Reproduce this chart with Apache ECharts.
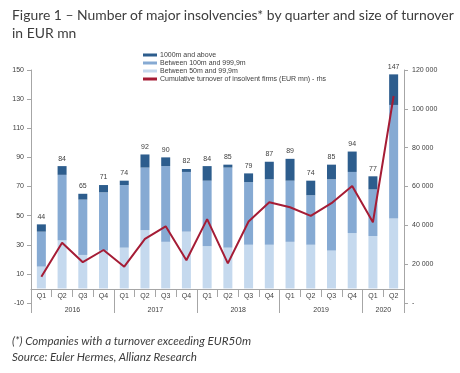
<!DOCTYPE html>
<html>
<head>
<meta charset="utf-8">
<script src="https://cdn.jsdelivr.net/npm/echarts@6/dist/echarts.min.js"></script>
<style>
html,body{margin:0;padding:0;background:#fff;}
#wrap{position:relative;width:460px;height:373px;overflow:hidden;}
#title{position:absolute;left:12px;top:6px;white-space:nowrap;font-family:Lato,"Noto Sans",sans-serif;font-size:13.9px;line-height:18px;color:#3d3d3d;}
#chart{position:absolute;left:0;top:0;width:460px;height:373px;}
#note{position:absolute;left:12px;top:333px;white-space:nowrap;font-family:Lato,"Noto Sans",sans-serif;font-style:italic;font-size:11.6px;line-height:16px;color:#3d3d3d;}
</style>
</head>
<body>
<div id="wrap">
<div id="chart"></div>
<div id="title">Figure 1 – Number of major insolvencies* by quarter and size of turnover<br>in EUR mn</div>
<div id="note">(*) Companies with a turnover exceeding EUR50m<br>Source: Euler Hermes, Allianz Research</div>
</div>
<script>
var quarters = ['Q1','Q2','Q3','Q4','Q1','Q2','Q3','Q4','Q1','Q2','Q3','Q4','Q1','Q2','Q3','Q4','Q1','Q2'];
var years = ['2016','2017','2018','2019','2020'];
var yearCenters = [2, 6, 10, 14, 17];
var yearBounds = [0, 4, 8, 12, 16, 18];
var between50and99 = [15,33,23,26,28,40,32,39,29,28,30,30,32,30,26,38,36,48];
var between100and999 = [24,45,38,40,43,43,52,41,45,55,43,45,42,34,49,42,32,78];
var above1000 = [5,6,4,5,3,9,6,2,10,2,6,12,15,10,10,14,9,21];
var totals = [44,84,65,71,74,92,90,82,84,85,79,87,89,74,85,94,77,147];
var cumulativeTurnover = [13500,31000,21000,27300,18700,33000,39500,22000,43200,20400,42000,51900,49300,44900,51400,60300,41600,106600];
var leftTicks = {min:-10, max:150, interval:20};
var rightTicks = {min:0, max:120000, interval:20000};

var axisColor = '#a6a6a6';
var labelFont = {fontFamily:'Liberation Sans, Arial, sans-serif', fontSize:7, color:'#404040'};
var chart = echarts.init(document.getElementById('chart'));
chart.setOption({
  animation:false,
  legend:{
    orient:'vertical', left:143, top:51, padding:0,
    itemWidth:14, itemHeight:3, itemGap:0,
    icon:'rect',
    textStyle:{fontFamily:'Liberation Sans, Arial, sans-serif', fontSize:7, lineHeight:8, color:'#404040', padding:[0,0,0,-2]},
    data:['1000m and above','Between 100m and 999,9m','Between 50m and 99,9m','Cumulative turnover of insolvent firms (EUR mn) - rhs']
  },
  grid:[
    {left:31, right:56, top:70, bottom:70},
    {left:31, right:56, top:70, bottom:84}
  ],
  xAxis:[{
    type:'category', data:quarters, gridIndex:0,
    axisLine:{show:false}, axisTick:{show:false}, axisLabel:{show:false}
  },{
    type:'category', data:quarters, gridIndex:1, position:'bottom',
    axisLine:{onZero:false, lineStyle:{color:axisColor}},
    axisTick:{show:true, length:8, lineStyle:{color:axisColor}},
    axisLabel:Object.assign({margin:4, interval:0}, labelFont)
  },{
    type:'value', min:0, max:18, gridIndex:1, position:'bottom',
    axisLine:{show:false, onZero:false},
    splitLine:{show:false},
    axisTick:{show:true, length:24, customValues:yearBounds, lineStyle:{color:axisColor}},
    axisLabel:Object.assign({margin:18, customValues:yearCenters, formatter:function(v){return years[yearCenters.indexOf(v)];}}, labelFont)
  }],
  yAxis:[{
    type:'value', gridIndex:0, min:leftTicks.min, max:leftTicks.max, interval:leftTicks.interval,
    axisLine:{show:true, lineStyle:{color:axisColor}},
    axisTick:{show:true, length:4, lineStyle:{color:axisColor}},
    splitLine:{show:false},
    axisLabel:Object.assign({margin:7}, labelFont)
  },{
    type:'value', gridIndex:0, min:rightTicks.min, max:rightTicks.max, interval:rightTicks.interval,
    axisLine:{show:true, lineStyle:{color:axisColor}},
    axisTick:{show:true, length:4, lineStyle:{color:axisColor}},
    splitLine:{show:false},
    axisLabel:Object.assign({margin:8, formatter:function(v){return v===0?'-':String(v).replace(/\B(?=(\d{3})+(?!\d))/g,' ');}}, labelFont)
  },{
    type:'value', gridIndex:1, min:0, max:1, show:false
  }],
  series:[{
    name:'Between 50m and 99,9m', type:'bar', stack:'n', barWidth:9,
    itemStyle:{color:'#c5d9ee'}, data:between50and99
  },{
    name:'Between 100m and 999,9m', type:'bar', stack:'n', barWidth:9,
    itemStyle:{color:'#86aad3'}, data:between100and999
  },{
    name:'1000m and above', type:'bar', stack:'n', barWidth:9,
    itemStyle:{color:'#2d5d8d'}, data:above1000,
    label:Object.assign({show:true, position:'top', distance:4, formatter:function(p){return totals[p.dataIndex];}}, labelFont)
  },{
    name:'Cumulative turnover of insolvent firms (EUR mn) - rhs', type:'line', yAxisIndex:1,
    symbol:'none', z:5, lineStyle:{color:'#a51c35', width:2}, itemStyle:{color:'#a51c35'},
    data:cumulativeTurnover
  }]
});
</script>
</body>
</html>
